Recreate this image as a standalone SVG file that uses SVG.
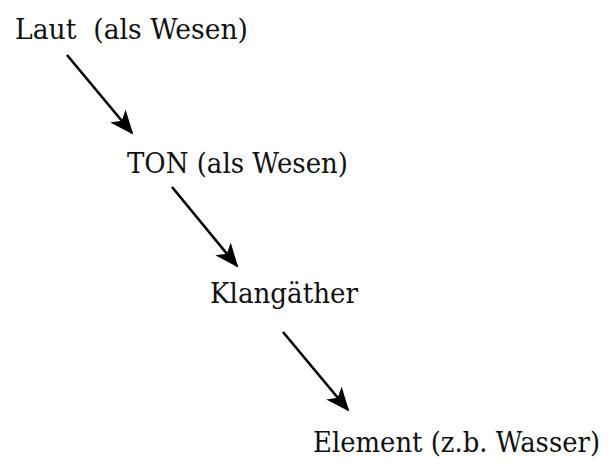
<svg xmlns="http://www.w3.org/2000/svg" width="608" height="465" viewBox="0 0 608 465">
<style>
text{font-family:"DejaVu Serif","Liberation Serif",serif;font-size:27.5px;fill:#111;white-space:pre;}
.c line{stroke:#000;stroke-width:2.6;marker-end:url(#ah);}
</style>
<defs>
<marker id="ah" markerUnits="userSpaceOnUse" viewBox="0 0 24 20" refX="22" refY="10" markerWidth="24" markerHeight="20" orient="auto">
<path d="M0,0 L24,10 L0,20 L6,10 Z" fill="#000"/>
</marker>
</defs>
<rect width="608" height="465" fill="#fff"/>
<g id="n1"><text x="15" y="39" xml:space="preserve" textLength="233" lengthAdjust="spacingAndGlyphs">Laut  (als Wesen)</text></g>
<g id="n2"><text x="127" y="173" textLength="221" lengthAdjust="spacingAndGlyphs">TON (als Wesen)</text></g>
<g id="n3"><text x="210" y="303" textLength="148" lengthAdjust="spacingAndGlyphs">Klangäther</text></g>
<g id="n4"><text x="313" y="452" textLength="287" lengthAdjust="spacingAndGlyphs">Element (z.b. Wasser)</text></g>
<g class="c" id="connectors">
<line x1="67" y1="55" x2="132" y2="133"/>
<line x1="172" y1="187" x2="237" y2="266"/>
<line x1="283" y1="332" x2="348" y2="410"/>
</g>
</svg>
